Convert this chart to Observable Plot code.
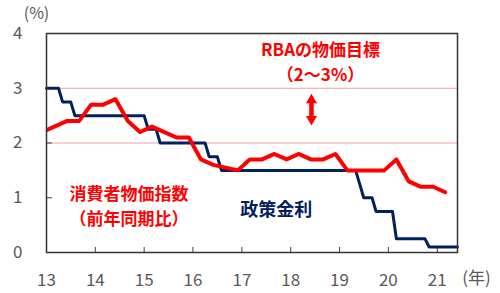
<!DOCTYPE html>
<html><head><meta charset="utf-8">
<script src="https://cdn.jsdelivr.net/npm/d3@7"></script>
<script src="https://cdn.jsdelivr.net/npm/@observablehq/plot@0.6"></script>
<style>
html,body{margin:0;padding:0;background:#fff;}
#chart{width:500px;height:293px;}
</style></head>
<body><div id="chart"></div>
<script>
// Consumer price index (YoY, %), quarterly (end-of-quarter month)
const cpiMonths = ["2012-12","2013-03","2013-06","2013-09","2013-12","2014-03","2014-06","2014-09","2014-12",
  "2015-03","2015-06","2015-09","2015-12","2016-03","2016-06","2016-09","2016-12","2017-03","2017-06","2017-09","2017-12",
  "2018-03","2018-06","2018-09","2018-12","2019-03","2019-06","2019-09","2019-12","2020-03","2020-06","2020-09","2020-12","2021-03"];
const cpiValues = [2.2,2.3,2.4,2.4,2.7,2.7,2.8,2.4,2.2,
  2.3,2.2,2.1,2.1,1.7,1.6,1.55,1.5,1.7,1.7,1.8,1.7,
  1.8,1.7,1.7,1.8,1.5,1.5,1.5,1.5,1.7,1.3,1.2,1.2,1.1];
// RBA cash rate (%), monthly points around each change
const rateMonths = ["2013-01","2013-04","2013-05","2013-07","2013-08","2015-01","2015-02","2015-04","2015-05",
  "2016-04","2016-05","2016-07","2016-08","2019-05","2019-06","2019-07","2019-09","2019-10","2020-02","2020-03",
  "2020-10","2020-11","2021-06"];
const rateValues = [3.0,3.0,2.75,2.75,2.5,2.5,2.25,2.25,2.0,
  2.0,1.75,1.75,1.5,1.5,1.25,1.0,1.0,0.75,0.75,0.25,
  0.25,0.1,0.1];
const xTickYears = [2013,2014,2015,2016,2017,2018,2019,2020,2021];
const yTickValues = [0,1,2,3,4];
const targetBand = [2,3];
const xDomainMonths = ["2013-01","2021-06"];

const RED = "#ff0000", NAVY = "#002060", GRAY = "#595959";
const FONT = "'Noto Sans CJK JP', 'Noto Sans', sans-serif";
const parse = d3.utcParse("%Y-%m");
const parseDay = d3.utcParse("%Y-%m-%d");

const cpi = cpiMonths.map((m, i) => ({date: parse(m), value: cpiValues[i]}));
const rate = rateMonths.map((m, i) => ({date: parse(m), value: rateValues[i]}));
const tickDates = xTickYears.map(y => new Date(Date.UTC(y, 0, 1)));

const redLabels = [
  {date: "2018-08-12", value: 3.51, text: "RBAの物価目標\n（2～3%）"},
  {date: "2014-09-10", value: 0.87, text: "消費者物価指数\n（前年同期比）"}
].map(d => ({...d, date: parseDay(d.date)}));
const navyLabels = [
  {date: "2017-09-15", value: 0.78, text: "政策金利"}
].map(d => ({...d, date: parseDay(d.date)}));
const arrowX = parseDay("2018-06-05");
const arrowShaft = [{date: arrowX, y1: 2.47, y2: 2.75}];
const arrowHeads = [{date: arrowX, value: 2.784, rot: 0}, {date: arrowX, value: 2.437, rot: 180}];

const chart = Plot.plot({
  width: 500, height: 293,
  marginLeft: 46, marginRight: 43, marginTop: 33, marginBottom: 41,
  style: {fontFamily: FONT, background: "#fff"},
  x: {type: "utc", domain: xDomainMonths.map(parse)},
  y: {domain: [0, 4]},
  marks: [
    Plot.ruleY(targetBand, {stroke: "#f2a0a0", strokeWidth: 1}),
    Plot.axisY({ticks: yTickValues, tickSize: 0, tickPadding: 24, tickFormat: d3.format("d"), fontSize: 17, color: GRAY, label: null}),
    Plot.axisY({ticks: [1,2,3], tickSize: 6, dx: 6, tickFormat: () => "", stroke: "#404040", label: null}),
    Plot.axisX({ticks: tickDates, tickSize: 0, tickPadding: 21, tickFormat: d3.utcFormat("%y"), fontSize: 17, color: GRAY, label: null}),
    Plot.axisX({ticks: tickDates.slice(1), tickSize: 5, dy: -5, tickFormat: () => "", stroke: "#404040", label: null}),
    Plot.line(rate, {x: "date", y: "value", stroke: NAVY, strokeWidth: 3, strokeLinejoin: "round"}),
    Plot.line(cpi, {x: "date", y: "value", stroke: RED, strokeWidth: 4, strokeLinejoin: "round", clip: true}),
    Plot.frame({stroke: "#333", strokeWidth: 1.5}),
    Plot.text(redLabels, {x: "date", y: "value", text: "text", fill: RED, fontWeight: "bold", fontSize: 17, lineHeight: 1.46}),
    Plot.text(navyLabels, {x: "date", y: "value", text: "text", fill: NAVY, fontWeight: "bold", fontSize: 18}),
    Plot.ruleX(arrowShaft, {x: "date", y1: "y1", y2: "y2", stroke: RED, strokeWidth: 4.5}),
    Plot.dot(arrowHeads, {x: "date", y: "value", symbol: "triangle", r: 4.1, rotate: "rot", fill: RED, stroke: null}),
    Plot.text(["(%)"], {frameAnchor: "top-left", textAnchor: "middle", lineAnchor: "middle", dx: -10, dy: -19.5, fontSize: 16, fill: GRAY}),
    Plot.text(["(年)"], {frameAnchor: "bottom-right", textAnchor: "middle", lineAnchor: "middle", dx: 19, dy: 26.5, fontSize: 17, fill: GRAY})
  ]
});
document.getElementById("chart").appendChild(chart);
</script>
</body></html>
